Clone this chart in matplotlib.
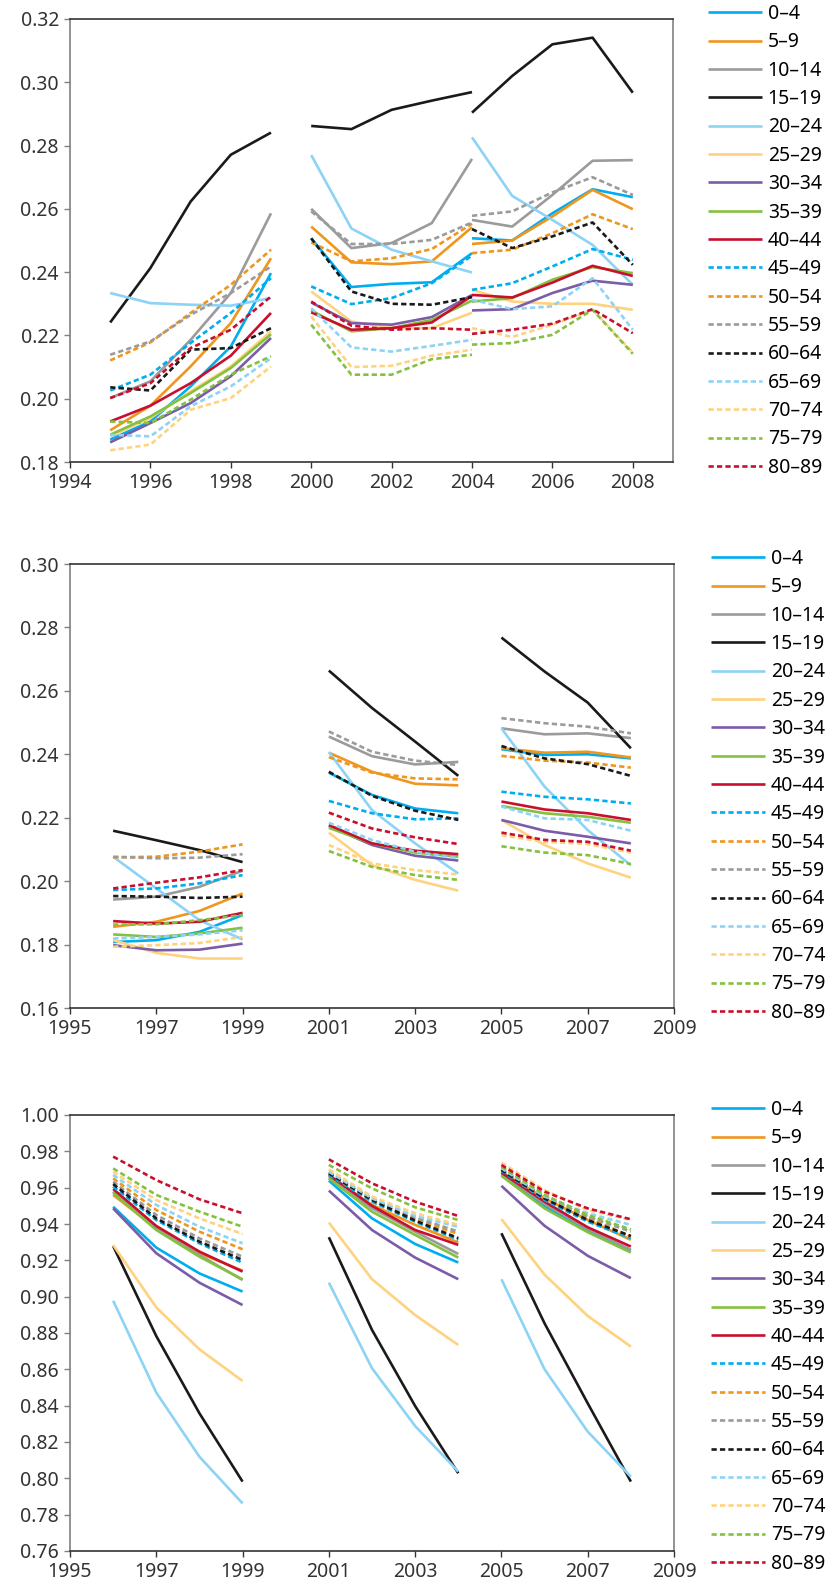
import matplotlib
matplotlib.use("Agg")
import matplotlib.pyplot as plt

plt.rcParams['font.family'] = ['Noto Sans', 'DejaVu Sans']

groups = ["0–4", "5–9", "10–14", "15–19", "20–24", "25–29", "30–34", "35–39",
          "40–44", "45–49", "50–54", "55–59", "60–64", "65–69", "70–74", "75–79", "80–89"]
colors = ["#00aeef", "#ee961e", "#9b9b9b", "#1a1a1a", "#8dd3f5", "#ffd27f", "#7a5ca8", "#84c13f",
          "#c8102e", "#00aeef", "#ee961e", "#9b9b9b", "#1a1a1a", "#8dd3f5", "#ffd27f", "#84c13f", "#c8102e"]
dashed = [False] * 9 + [True] * 8

# top panel: three runs, the last two share 2004
years_a = [[1995, 1996, 1997, 1998, 1999], [2000, 2001, 2002, 2003, 2004], [2004, 2005, 2006, 2007, 2008]]
vals_a = {
    "0–4":   [[0.1871, 0.1928, 0.2039, 0.2165, 0.2397], [0.2507, 0.2353, 0.2363, 0.2368, 0.2460], [0.2507, 0.2500, 0.2586, 0.2662, 0.2637]],
    "5–9":   [[0.1900, 0.1978, 0.2102, 0.2239, 0.2444], [0.2544, 0.2431, 0.2425, 0.2434, 0.2542], [0.2489, 0.2500, 0.2576, 0.2660, 0.2599]],
    "10–14": [[0.2002, 0.2055, 0.2186, 0.2334, 0.2586], [0.2600, 0.2476, 0.2492, 0.2555, 0.2758], [0.2565, 0.2544, 0.2644, 0.2752, 0.2754]],
    "15–19": [[0.2241, 0.2413, 0.2623, 0.2771, 0.2841], [0.2862, 0.2852, 0.2913, 0.2942, 0.2969], [0.2904, 0.3020, 0.3120, 0.3141, 0.2967]],
    "20–24": [[0.2334, 0.2302, 0.2297, 0.2294, 0.2318], [0.2770, 0.2538, 0.2471, 0.2434, 0.2399], [0.2826, 0.2641, 0.2565, 0.2486, 0.2360]],
    "25–29": [[0.1881, 0.1939, 0.2023, 0.2102, 0.2213], [0.2339, 0.2244, 0.2223, 0.2223, 0.2272], [0.2344, 0.2307, 0.2300, 0.2300, 0.2281]],
    "30–34": [[0.1862, 0.1923, 0.1986, 0.2071, 0.2192], [0.2304, 0.2239, 0.2234, 0.2258, 0.2328], [0.2279, 0.2283, 0.2334, 0.2373, 0.2360]],
    "35–39": [[0.1886, 0.1944, 0.2018, 0.2097, 0.2204], [0.2279, 0.2213, 0.2223, 0.2249, 0.2310], [0.2307, 0.2318, 0.2376, 0.2416, 0.2397]],
    "40–44": [[0.1928, 0.1978, 0.2049, 0.2136, 0.2271], [0.2273, 0.2218, 0.2223, 0.2241, 0.2325], [0.2328, 0.2320, 0.2367, 0.2420, 0.2388]],
    "45–49": [[0.2026, 0.2076, 0.2176, 0.2271, 0.2381], [0.2355, 0.2299, 0.2318, 0.2365, 0.2452], [0.2344, 0.2365, 0.2418, 0.2473, 0.2439]],
    "50–54": [[0.2121, 0.2178, 0.2271, 0.2360, 0.2471], [0.2494, 0.2434, 0.2444, 0.2473, 0.2553], [0.2460, 0.2471, 0.2523, 0.2583, 0.2536]],
    "55–59": [[0.2139, 0.2181, 0.2265, 0.2334, 0.2418], [0.2592, 0.2489, 0.2489, 0.2502, 0.2557], [0.2578, 0.2592, 0.2652, 0.2700, 0.2644]],
    "60–64": [[0.2036, 0.2026, 0.2155, 0.2160, 0.2223], [0.2507, 0.2339, 0.2300, 0.2297, 0.2321], [0.2536, 0.2476, 0.2513, 0.2557, 0.2423]],
    "65–69": [[0.1886, 0.1881, 0.1976, 0.2039, 0.2128], [0.2286, 0.2162, 0.2149, 0.2167, 0.2186], [0.2313, 0.2283, 0.2292, 0.2381, 0.2218]],
    "70–74": [[0.1837, 0.1855, 0.1965, 0.2002, 0.2102], [0.2260, 0.2100, 0.2104, 0.2136, 0.2155], [0.2223, 0.2195, 0.2234, 0.2281, 0.2146]],
    "75–79": [[0.1928, 0.1923, 0.1997, 0.2076, 0.2134], [0.2234, 0.2076, 0.2076, 0.2125, 0.2139], [0.2171, 0.2176, 0.2202, 0.2281, 0.2142]],
    "80–89": [[0.2002, 0.2049, 0.2160, 0.2218, 0.2323], [0.2307, 0.2231, 0.2218, 0.2223, 0.2218], [0.2205, 0.2218, 0.2237, 0.2283, 0.2207]],
}

years_b = [[1996, 1997, 1998, 1999], [2001, 2002, 2003, 2004], [2005, 2006, 2007, 2008]]
vals_b = {
    "0–4":   [[0.1808, 0.1814, 0.1840, 0.1893], [0.2342, 0.2272, 0.2229, 0.2214], [0.2416, 0.2398, 0.2400, 0.2387]],
    "5–9":   [[0.1856, 0.1872, 0.1906, 0.1961], [0.2405, 0.2345, 0.2307, 0.2302], [0.2419, 0.2405, 0.2408, 0.2390]],
    "10–14": [[0.1942, 0.1951, 0.1982, 0.2033], [0.2456, 0.2394, 0.2368, 0.2376], [0.2482, 0.2463, 0.2466, 0.2451]],
    "15–19": [[0.2159, 0.2129, 0.2098, 0.2060], [0.2664, 0.2546, 0.2440, 0.2332], [0.2768, 0.2661, 0.2563, 0.2419]],
    "20–24": [[0.2077, 0.1977, 0.1877, 0.1816], [0.2407, 0.2224, 0.2119, 0.2024], [0.2482, 0.2298, 0.2161, 0.2050]],
    "25–29": [[0.1814, 0.1774, 0.1756, 0.1756], [0.2153, 0.2050, 0.2004, 0.1970], [0.2193, 0.2114, 0.2056, 0.2011]],
    "30–34": [[0.1798, 0.1782, 0.1784, 0.1803], [0.2174, 0.2114, 0.2080, 0.2065], [0.2193, 0.2159, 0.2140, 0.2119]],
    "35–39": [[0.1832, 0.1824, 0.1835, 0.1853], [0.2168, 0.2119, 0.2090, 0.2077], [0.2237, 0.2214, 0.2203, 0.2184]],
    "40–44": [[0.1874, 0.1866, 0.1872, 0.1900], [0.2177, 0.2119, 0.2096, 0.2085], [0.2251, 0.2226, 0.2214, 0.2193]],
    "45–49": [[0.1972, 0.1977, 0.1993, 0.2019], [0.2253, 0.2214, 0.2195, 0.2198], [0.2282, 0.2266, 0.2258, 0.2245]],
    "50–54": [[0.2075, 0.2077, 0.2093, 0.2116], [0.2391, 0.2342, 0.2324, 0.2321], [0.2395, 0.2380, 0.2374, 0.2358]],
    "55–59": [[0.2077, 0.2072, 0.2074, 0.2085], [0.2472, 0.2408, 0.2380, 0.2366], [0.2514, 0.2498, 0.2487, 0.2466]],
    "60–64": [[0.1953, 0.1951, 0.1947, 0.1951], [0.2345, 0.2269, 0.2222, 0.2193], [0.2426, 0.2387, 0.2369, 0.2332]],
    "65–69": [[0.1819, 0.1824, 0.1832, 0.1845], [0.2184, 0.2130, 0.2093, 0.2072], [0.2235, 0.2198, 0.2193, 0.2159]],
    "70–74": [[0.1793, 0.1798, 0.1805, 0.1824], [0.2114, 0.2056, 0.2035, 0.2021], [0.2145, 0.2124, 0.2117, 0.2090]],
    "75–79": [[0.1863, 0.1864, 0.1877, 0.1893], [0.2095, 0.2045, 0.2019, 0.2004], [0.2110, 0.2090, 0.2082, 0.2054]],
    "80–89": [[0.1977, 0.1995, 0.2012, 0.2035], [0.2216, 0.2166, 0.2138, 0.2117], [0.2153, 0.2130, 0.2124, 0.2096]],
}

years_c = years_b
vals_c = {
    "0–4":   [[0.9495, 0.9270, 0.9128, 0.9028], [0.9639, 0.9431, 0.9290, 0.9188], [0.9670, 0.9497, 0.9364, 0.9254]],
    "5–9":   [[0.9560, 0.9376, 0.9239, 0.9143], [0.9661, 0.9505, 0.9395, 0.9298], [0.9688, 0.9541, 0.9422, 0.9313]],
    "10–14": [[0.9578, 0.9376, 0.9229, 0.9092], [0.9652, 0.9487, 0.9358, 0.9235], [0.9679, 0.9510, 0.9373, 0.9258]],
    "15–19": [[0.9279, 0.8783, 0.8358, 0.7982], [0.9327, 0.8817, 0.8398, 0.8028], [0.9349, 0.8853, 0.8413, 0.7982]],
    "20–24": [[0.8978, 0.8472, 0.8119, 0.7862], [0.9077, 0.8606, 0.8288, 0.8037], [0.9096, 0.8600, 0.8257, 0.8009]],
    "25–29": [[0.9284, 0.8941, 0.8710, 0.8536], [0.9408, 0.9096, 0.8899, 0.8734], [0.9427, 0.9121, 0.8894, 0.8725]],
    "30–34": [[0.9486, 0.9239, 0.9077, 0.8954], [0.9584, 0.9367, 0.9215, 0.9096], [0.9610, 0.9390, 0.9225, 0.9102]],
    "35–39": [[0.9572, 0.9367, 0.9220, 0.9095], [0.9652, 0.9468, 0.9340, 0.9215], [0.9665, 0.9486, 0.9355, 0.9243]],
    "40–44": [[0.9593, 0.9389, 0.9248, 0.9138], [0.9670, 0.9500, 0.9367, 0.9285], [0.9683, 0.9523, 0.9382, 0.9276]],
    "45–49": [[0.9606, 0.9422, 0.9294, 0.9187], [0.9670, 0.9523, 0.9413, 0.9313], [0.9694, 0.9532, 0.9413, 0.9322]],
    "50–54": [[0.9651, 0.9477, 0.9358, 0.9261], [0.9679, 0.9532, 0.9426, 0.9345], [0.9712, 0.9560, 0.9437, 0.9331]],
    "55–59": [[0.9633, 0.9450, 0.9321, 0.9220], [0.9688, 0.9541, 0.9437, 0.9358], [0.9701, 0.9551, 0.9441, 0.9358]],
    "60–64": [[0.9620, 0.9431, 0.9303, 0.9202], [0.9679, 0.9532, 0.9419, 0.9322], [0.9698, 0.9541, 0.9422, 0.9334]],
    "65–69": [[0.9670, 0.9505, 0.9385, 0.9294], [0.9688, 0.9541, 0.9444, 0.9385], [0.9707, 0.9551, 0.9459, 0.9395]],
    "70–74": [[0.9688, 0.9532, 0.9431, 0.9345], [0.9701, 0.9551, 0.9459, 0.9395], [0.9738, 0.9587, 0.9477, 0.9422]],
    "75–79": [[0.9706, 0.9560, 0.9468, 0.9385], [0.9725, 0.9596, 0.9492, 0.9422], [0.9716, 0.9560, 0.9449, 0.9370]],
    "80–89": [[0.9771, 0.9642, 0.9536, 0.9459], [0.9756, 0.9624, 0.9523, 0.9444], [0.9725, 0.9578, 0.9486, 0.9426]],
}

W, H = 831, 1586
fig = plt.figure(figsize=(W / 100, H / 100), dpi=100)


def px_axes(left, top, right, bottom):
    return fig.add_axes([left / W, 1 - bottom / H, (right - left) / W, (bottom - top) / H])


def draw_panel(ax, years, vals, xlim, xticks, ylim, yticks, legend_x, legend_top):
    for g, c, d in zip(groups, colors, dashed):
        for i, (xs, ys) in enumerate(zip(years, vals[g])):
            line, = ax.plot(xs, ys, color=c, lw=1.9, solid_capstyle='butt',
                            label=g if i == 0 else None)
            if d:
                line.set_dashes((2.0, 1.2))
    ax.set_xlim(*xlim)
    ax.set_ylim(*ylim)
    ax.set_xticks(xticks)
    ax.set_yticks(yticks)
    ax.set_yticklabels(["%.2f" % v for v in yticks])
    ax.tick_params(direction='out', length=4, width=1, labelsize=14, colors='#333333', pad=4)
    ax.tick_params(axis='y', colors='#808080', labelcolor='#333333')
    for s in ['top', 'bottom']:
        ax.spines[s].set_color('#333333')
    for s in ['left', 'right']:
        ax.spines[s].set_color('#808080')
    for s in ax.spines.values():
        s.set_linewidth(1.2)
    ax.legend(loc='upper left', bbox_to_anchor=(legend_x / W, 1 - legend_top / H),
              bbox_transform=fig.transFigure, frameon=False, fontsize=14,
              handlelength=2.8, handletextpad=0.27, labelspacing=0.43,
              borderpad=0, borderaxespad=0)


ax1 = px_axes(70, 19, 673, 462)
draw_panel(ax1, years_a, vals_a, (1994, 2009), list(range(1994, 2009, 2)),
           (0.18, 0.32), [0.18 + 0.02 * i for i in range(8)], 708, 4)

ax2 = px_axes(70, 564, 674, 1008)
draw_panel(ax2, years_b, vals_b, (1995, 2009), list(range(1995, 2010, 2)),
           (0.16, 0.30), [0.16 + 0.02 * i for i in range(8)], 711, 549)

ax3 = px_axes(70, 1115, 674, 1551)
draw_panel(ax3, years_c, vals_c, (1995, 2009), list(range(1995, 2010, 2)),
           (0.76, 1.00), [0.76 + 0.02 * i for i in range(13)], 711, 1100)

fig.savefig("out.png", dpi=100)
